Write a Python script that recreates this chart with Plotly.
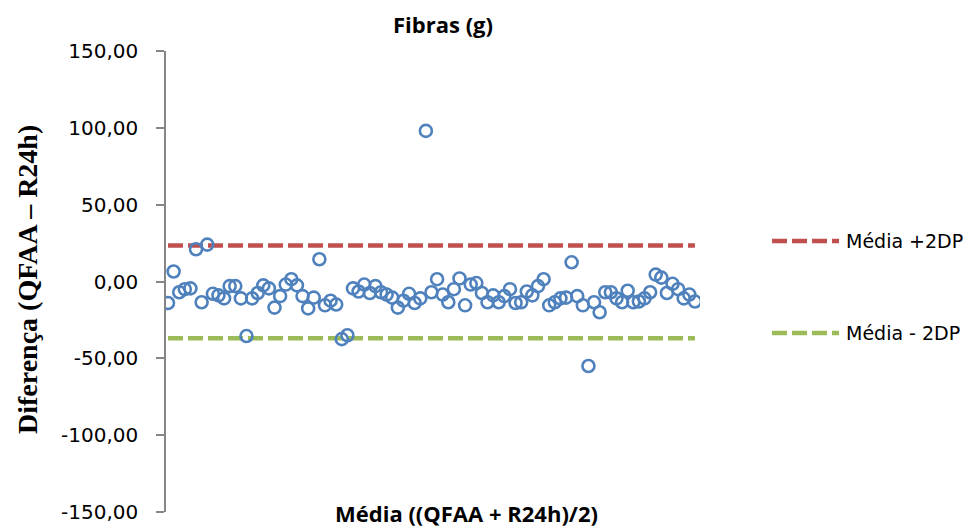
import plotly.graph_objects as go

# ---- data ----
diferenca = [
    -14, 6.5, -7, -5, -4.5, 21, -13.5, 24, -8, -9,
    -11, -3, -3, -11, -35.5, -11, -7.5, -2.5, -4.5, -17,
    -9.5, -2, 1.5, -2.5, -9.5, -17.5, -10.5, 14.5, -15.5, -12.5,
    -15, -37.5, -35, -4.5, -6.5, -2, -7.5, -3, -7, -8.5,
    -10.5, -17, -12.5, -8, -14, -11, 98, -7, 1.5, -8.5,
    -13.5, -5, 2, -15.5, -2, -1, -7.5, -13.5, -9, -13.5,
    -9.5, -5, -14, -13.5, -6.5, -9, -3, 1.5, -15.5, -13.5,
    -11, -10.5, 12.5, -9.5, -15.5, -55, -13.5, -20, -7, -7,
    -11, -13.5, -6, -13.5, -13, -11, -7, 4.5, 2.5, -7.5,
    -1.5, -5, -11, -8.5, -13,
]
indice = list(range(1, len(diferenca) + 1))
media_mais_2dp = 23.4
media_menos_2dp = -37.0
tick_vals = [150, 100, 50, 0, -50, -100, -150]
tick_text = ["150,00", "100,00", "50,00", "0,00", "-50,00", "-100,00", "-150,00"]

RED = "#C0504D"
GREEN = "#9BBB59"
BLUE = "#4F81BD"

fig = go.Figure()
fig.add_trace(go.Scatter(
    x=[indice[0], indice[-1]], y=[media_mais_2dp, media_mais_2dp],
    mode="lines", name="Média +2DP",
    line=dict(color=RED, width=4.5, dash="15px,5px"), showlegend=False,
))
fig.add_trace(go.Scatter(
    x=[indice[0], indice[-1]], y=[media_menos_2dp, media_menos_2dp],
    mode="lines", name="Média - 2DP",
    line=dict(color=GREEN, width=4.5, dash="15px,5px"), showlegend=False,
))
fig.add_trace(go.Scatter(
    x=indice, y=diferenca, mode="markers", name="Diferença",
    marker=dict(symbol="circle-open", size=12, color=BLUE, line=dict(width=2.6, color=BLUE)),
    showlegend=False,
))

L, R, T, B = 166, 277, 51, 17
W, H = 977, 529
pw, ph = W - L - R, H - T - B

def px(xp):
    return (xp - L) / pw

def py(yp):
    return (H - B - yp) / ph

fig.update_layout(
    width=W, height=H,
    margin=dict(l=L, r=R, t=T, b=B, autoexpand=False),
    paper_bgcolor="white", plot_bgcolor="white",
    showlegend=False,
    xaxis=dict(range=[0.643, 95.9], showticklabels=False, showgrid=False,
               zeroline=False, showline=False, ticks="", automargin=False),
    yaxis=dict(range=[-150, 150], tickvals=tick_vals, ticktext=tick_text,
               showgrid=False, zeroline=False, showline=True, linecolor="#868686",
               linewidth=1.5, ticks="outside", ticklen=8, tickwidth=1.5,
               tickcolor="#868686", ticklabelstandoff=14, automargin=False,
               tickfont=dict(family="DejaVu Sans", size=20, color="black")),
)

annotations = [
    dict(text="<b>Fibras (g)</b>", x=px(443), y=py(24), xref="paper", yref="paper",
         showarrow=False, font=dict(family="Open Sans", size=22, color="black"),
         xanchor="center", yanchor="middle"),
    dict(text="<b>Média ((QFAA + R24h)/2)</b>", x=px(466), y=py(513), xref="paper", yref="paper",
         showarrow=False, font=dict(family="Open Sans", size=22, color="black"),
         xanchor="center", yanchor="middle"),
    dict(text="<b>Diferença (QFAA – R24h)</b>", x=px(27), y=py(280), xref="paper", yref="paper",
         showarrow=False, textangle=-90,
         font=dict(family="Liberation Serif", size=28, color="black"),
         xanchor="center", yanchor="middle"),
    dict(text="Média +2DP", x=px(844), y=py(241), xref="paper", yref="paper",
         showarrow=False, font=dict(family="DejaVu Sans", size=19, color="black"),
         xanchor="left", yanchor="middle"),
    dict(text="Média - 2DP", x=px(844), y=py(333), xref="paper", yref="paper",
         showarrow=False, font=dict(family="DejaVu Sans", size=19, color="black"),
         xanchor="left", yanchor="middle"),
]
fig.update_layout(annotations=annotations)

shapes = [
    dict(type="line", xref="paper", yref="paper", x0=px(772), x1=px(839), y0=py(241), y1=py(241),
         line=dict(color=RED, width=4.5, dash="15px,5px")),
    dict(type="line", xref="paper", yref="paper", x0=px(772), x1=px(839), y0=py(333), y1=py(333),
         line=dict(color=GREEN, width=4.5, dash="15px,5px")),
]
fig.update_layout(shapes=shapes)

fig.write_html("out.html")
